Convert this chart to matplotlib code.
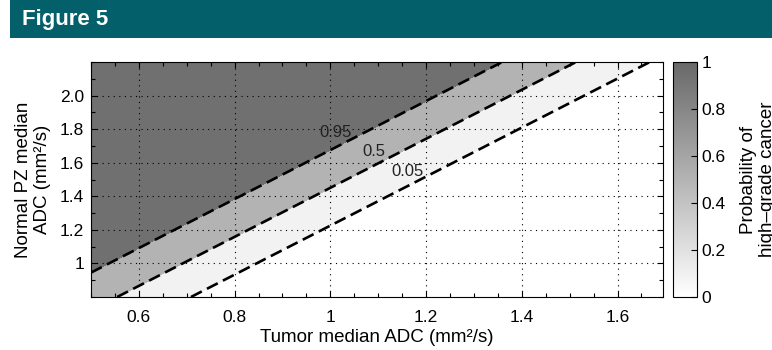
import numpy as np
import matplotlib
matplotlib.use("Agg")
import matplotlib.pyplot as plt
from matplotlib.colors import LinearSegmentedColormap, Normalize
from matplotlib.cm import ScalarMappable
from matplotlib.patches import Rectangle
from matplotlib.ticker import MultipleLocator, FixedLocator

plt.rcParams['font.family'] = ['Liberation Sans', 'DejaVu Sans']

# ---- data ----
x_range = [0.5, 1.695]          # tumor median ADC
y_range = [0.8, 2.2]            # normal PZ median ADC
coef_intercept = 0.13           # logistic model: logit P = b0 + b1*tumor + b2*normal
coef_tumor = -19.1
coef_normal = 13.08
contour_levels = [0.05, 0.5, 0.95]
contour_label_text = ['0.05', '0.5', '0.95']
contour_label_x = [1.162, 1.09, 1.011]
fill_levels = [0.0, 0.05, 0.5, 0.95, 1.0]
x_ticks = [0.6, 0.8, 1.0, 1.2, 1.4, 1.6]
x_tick_labels = ['0.6', '0.8', '1', '1.2', '1.4', '1.6']
y_ticks = [1.0, 1.2, 1.4, 1.6, 1.8, 2.0]
y_tick_labels = ['1', '1.2', '1.4', '1.6', '1.8', '2.0']
cbar_ticks = [0, 0.2, 0.4, 0.6, 0.8, 1.0]
cbar_tick_labels = ['0', '0.2', '0.4', '0.6', '0.8', '1']

W, H = 772, 350
fig = plt.figure(figsize=(W / 100, H / 100), dpi=100)

# header bar
fig.patches.append(Rectangle((10 / W, 1 - 38 / H), 1 - 10 / W, 38 / H,
                             transform=fig.transFigure, facecolor='#03606b',
                             edgecolor='none', zorder=0))
fig.text(22 / W, 1 - 19 / H, 'Figure 5', color='white', fontsize=16,
         fontweight='bold', family=['Liberation Sans Narrow', 'Liberation Sans'],
         va='center', ha='left')

ax = fig.add_axes([91 / W, (H - 297) / H, 572 / W, 235 / H])
cax = fig.add_axes([673 / W, (H - 297) / H, 24 / W, 235 / H])

cmap = LinearSegmentedColormap.from_list('g', [(1, 1, 1), (0.41, 0.41, 0.41)])

xx = np.linspace(x_range[0], x_range[1], 400)
yy = np.linspace(y_range[0], y_range[1], 400)
X, Y = np.meshgrid(xx, yy)
P = 1.0 / (1.0 + np.exp(-(coef_intercept + coef_tumor * X + coef_normal * Y)))

fill_colors = [cmap(v) for v in fill_levels[:-1]]
fill_colors[1] = (0.95, 0.95, 0.95, 1.0)
ax.contourf(X, Y, P, levels=fill_levels, colors=fill_colors, zorder=1)
ax.contour(X, Y, P, levels=contour_levels, colors='black', linewidths=1.9,
           linestyles=[(0, (4.6, 2.2))], zorder=4)

for lev, txt, lx in zip(contour_levels, contour_label_text, contour_label_x):
    logit = np.log(lev / (1 - lev))
    ly = (logit - coef_intercept - coef_tumor * lx) / coef_normal
    ax.annotate(txt, xy=(lx, ly), xytext=(0, 10.5), textcoords='offset points',
                ha='center', va='center', fontsize=12, color='#222222', zorder=5)

ax.set_xlim(*x_range)
ax.set_ylim(*y_range)
ax.xaxis.set_major_locator(FixedLocator(x_ticks))
ax.set_xticklabels(x_tick_labels)
ax.yaxis.set_major_locator(FixedLocator(y_ticks))
ax.set_yticklabels(y_tick_labels)
ax.xaxis.set_minor_locator(MultipleLocator(0.05))
ax.yaxis.set_minor_locator(MultipleLocator(0.1))
ax.tick_params(which='both', direction='in', top=True, right=True,
               color='black', width=0.8, labelsize=12.5)
ax.tick_params(axis='x', which='major', pad=9)
ax.tick_params(axis='y', which='major', pad=5)
ax.tick_params(which='major', length=4)
ax.tick_params(which='minor', length=3)
ax.set_axisbelow(False)
ax.grid(True, which='major', color='black', linestyle=(0, (1, 4)), linewidth=0.8)
for s in ax.spines.values():
    s.set_linewidth(0.8)
    s.set_zorder(6)

ax.set_xlabel('Tumor median ADC (mm²/s)', fontsize=13.5, labelpad=3)
ax.set_ylabel('Normal PZ median\nADC (mm²/s)', fontsize=13.5, labelpad=6)

cb = fig.colorbar(ScalarMappable(norm=Normalize(0, 1), cmap=cmap), cax=cax)
cb.set_ticks(cbar_ticks)
cb.set_ticklabels(cbar_tick_labels)
cb.outline.set_linewidth(0.8)
cax.tick_params(direction='in', length=4, width=0.8, labelsize=12.5, pad=3)
fig.text(758 / W, 0.5 * ((H - 297) + (H - 62)) / H,
         'Probability of\nhigh\u2013grade cancer', rotation=90, ha='center',
         va='center', fontsize=13.5, multialignment='center', linespacing=1.1)

fig.savefig('out.png', dpi=100)
